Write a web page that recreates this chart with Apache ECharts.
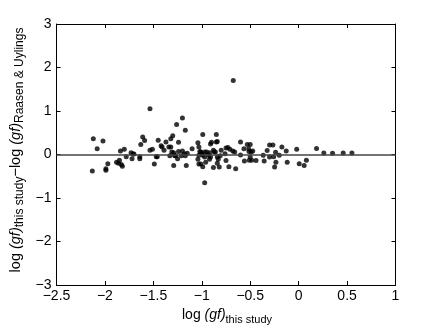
<!DOCTYPE html>
<html>
<head>
<meta charset="utf-8">
<script src="https://cdn.jsdelivr.net/npm/echarts@6/dist/echarts.min.js"></script>
<style>
  html, body { margin: 0; padding: 0; background: #fff; }
  #main { width: 436px; height: 328px; }
</style>
</head>
<body>
<div id="main"></div>
<script>
// log(gf) this study
const logGfThis = [
  -2.13, -2.12, -2.08, -2.02, -1.99, -1.99, -1.97, -1.88, -1.86, -1.85, -1.83, -1.82,
  -1.84, -1.80, -1.78, -1.73, -1.71, -1.70, -1.72, -1.64, -1.64, -1.63, -1.61, -1.59,
  -1.535, -1.535, -1.51, -1.49, -1.47, -1.46, -1.45, -1.42, -1.41, -1.39, -1.37,
  -1.34, -1.32, -1.31, -1.33, -1.32, -1.30, -1.29, -1.26, -1.27, -1.25, -1.24, -1.24, -1.29, -1.28,
  -1.20, -1.17, -1.20, -1.18, -1.21, -1.17, -1.15, -1.16, -1.10,
  -1.04, -1.03, -1.02, -1.01, -1.00, -0.99, -1.03, -1.04, -1.03, -1.01, -0.99, -0.97, -0.97, -0.95, -0.96, -0.99,
  -0.97, -0.93, -0.92, -0.91, -0.92, -0.91, -0.90, -0.88, -0.87, -0.86, -0.88,
  -0.85, -0.84, -0.85, -0.84, -0.83, -0.84, -0.82, -0.81, -0.80,
  -0.76, -0.75, -0.73, -0.75, -0.72, -0.71, -0.68, -0.675, -0.66, -0.65,
  -0.60, -0.60, -0.565, -0.56, -0.53, -0.50, -0.516, -0.513, -0.49, -0.474, -0.50, -0.485, -0.51, -0.44,
  -0.366, -0.356, -0.325, -0.30, -0.266, -0.30, -0.258, -0.238, -0.235, -0.248, -0.20, -0.173, -0.128, -0.118,
  -0.02, 0.006, 0.057, 0.08, 0.185, 0.26, 0.35, 0.46, 0.55
];
// log(gf) this study - log(gf) Raasen & Uylings
const logGfDiff = [
  -0.38, 0.36, 0.13, 0.31, -0.36, -0.33, -0.21, -0.18, -0.20, -0.13, -0.23, -0.27,
  0.08, 0.12, -0.05, 0.04, 0.01, 0.01, -0.10, -0.05, -0.10, 0.23, 0.40, 0.32,
  1.05, 0.10, 0.12, -0.22, -0.05, -0.05, 0.33, 0.20, 0.17, 0.10, 0.29,
  0.17, 0.17, 0.06, -0.03, 0.36, 0.43, -0.25, 0.69, -0.03, -0.10, 0.07, 0.28, 0.04, -0.03,
  0.84, 0.56, 0.08, 0.02, -0.03, -0.03, 0.03, -0.25, 0.13,
  0.27, 0.17, 0.07, 0.06, 0.02, 0.46, -0.02, -0.11, -0.22, -0.22, -0.02, 0.06, -0.06, 0.06, -0.18, -0.28,
  -0.65, -0.02, -0.11, -0.06, 0.04, 0.24, 0.28, 0.10, 0.06, 0.06, -0.30,
  0.46, 0.30, 0.29, -0.06, -0.11, -0.20, -0.29, -0.03, 0.10,
  0.02, 0.15, 0.16, -0.14, -0.28, 0.12, 0.08, 1.70, 0.06, -0.33,
  0.29, -0.01, 0.13, -0.15, 0.23, 0.23, 0.13, 0.07, 0.06, 0.08, -0.06, -0.13, -0.13, -0.14,
  -0.02, -0.15, 0.09, 0.22, 0.22, -0.06, -0.05, 0.05, -0.18, -0.29, -0.02, 0.17, 0.08, -0.18,
  0.12, -0.21, -0.25, -0.13, 0.14, 0.035, 0.03, 0.035, 0.035
];
const xTicks = { min: -2.5, max: 1, step: 0.5 };
const yTicks = { min: -3, max: 3, step: 1 };

const points = logGfThis.map((x, i) => [x, logGfDiff[i]]);
const font = 'Liberation Sans, Arial, Helvetica, sans-serif';
const minus = v => String(v).replace('-', '\u2212');

const chart = echarts.init(document.getElementById('main'));

const axisCommon = {
  type: 'value',
  axisLine: { show: true, onZero: false, lineStyle: { color: '#000', width: 1 } },
  axisTick: { show: true, inside: true, length: 4, lineStyle: { color: '#000' } },
  splitLine: { show: false }
};

// rich styles for labels with subscripts
const labelRich = (main, sub) => ({
  n: { fontSize: main, lineHeight: 20, fontFamily: font, fill: '#000' },
  i: { fontSize: main, lineHeight: 20, fontStyle: 'italic', fontFamily: font, fill: '#000' },
  s: { fontSize: sub, lineHeight: sub, verticalAlign: 'bottom', fontFamily: font, fill: '#000' }
});

chart.setOption({
  animation: false,
  backgroundColor: '#fff',
  grid: { left: 56.5, right: 40.5, top: 24, bottom: 43 },
  xAxis: [
    Object.assign({}, axisCommon, {
      position: 'bottom', min: xTicks.min, max: xTicks.max, interval: xTicks.step,
      axisLabel: { color: '#000', fontFamily: font, fontSize: 14, margin: 4, formatter: minus }
    }),
    Object.assign({}, axisCommon, {
      position: 'top', min: xTicks.min, max: xTicks.max, interval: xTicks.step,
      axisLabel: { show: false }
    })
  ],
  yAxis: [
    Object.assign({}, axisCommon, {
      position: 'left', min: yTicks.min, max: yTicks.max, interval: yTicks.step,
      axisLabel: { color: '#000', fontFamily: font, fontSize: 14, margin: 5, formatter: minus }
    }),
    Object.assign({}, axisCommon, {
      position: 'right', min: yTicks.min, max: yTicks.max, interval: yTicks.step,
      axisLabel: { show: false }
    })
  ],
  graphic: [
    {
      type: 'text', x: 227, y: 315,
      style: {
        text: '{n|log }{i|(gf)}{s|this study}',
        align: 'center', verticalAlign: 'middle',
        fontFamily: font,
        rich: labelRich(14, 11)
      }
    },
    {
      type: 'text', x: 16, y: 150, rotation: Math.PI / 2,
      style: {
        text: '{n|log }{i|(gf)}{s|this study}{n|\u2212log }{i|(gf)}{s|Raasen & Uylings}',
        align: 'center', verticalAlign: 'middle',
        fontFamily: font,
        rich: labelRich(14.5, 12)
      }
    }
  ],
  series: [
    {
      type: 'scatter',
      xAxisIndex: 0, yAxisIndex: 0,
      symbol: 'circle',
      symbolSize: 5,
      itemStyle: { color: '#000' },
      data: points,
      markLine: {
        silent: true,
        symbol: 'none',
        label: { show: false },
        lineStyle: { color: '#444', width: 1.5, type: 'solid' },
        data: [{ yAxis: 0 }]
      }
    }
  ]
});
</script>
</body>
</html>
